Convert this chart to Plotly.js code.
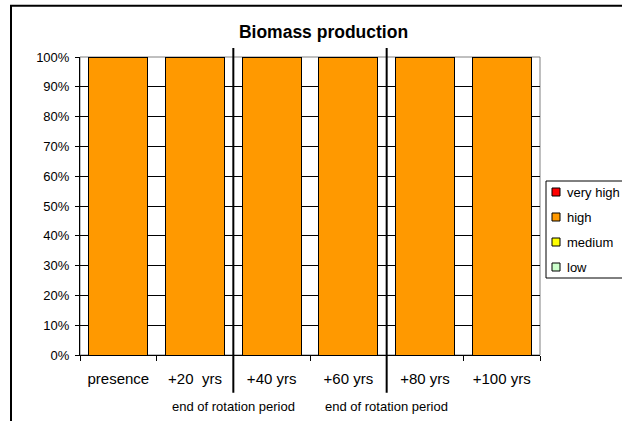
<!DOCTYPE html>
<html>
<head>
<meta charset="utf-8">
<script src="https://cdn.plot.ly/plotly-3.0.1.min.js"></script>
<style>html,body{margin:0;padding:0;background:#fff;}#chart{width:622px;height:421px;}</style>
</head>
<body>
<div id="chart"></div>
<script>
var categories = ['presence', '+20  yrs', '+40 yrs', '+60 yrs', '+80 yrs', '+100 yrs'];
var seriesNames = ['low', 'medium', 'high', 'very high'];
var lowValues = [0, 0, 0, 0, 0, 0];
var mediumValues = [0, 0, 0, 0, 0, 0];
var highValues = [100, 100, 100, 100, 100, 100];
var veryHighValues = [0, 0, 0, 0, 0, 0];
var seriesColors = ['#CCFFCC', '#FFFF00', '#FF9900', '#FF0000'];
var rotationEndAfter = ['+20  yrs', '+60 yrs'];
var rotationLabel = 'end of rotation period';
var yTickValues = [0, 10, 20, 30, 40, 50, 60, 70, 80, 90, 100];
var yTickLabels = ['0%', '10%', '20%', '30%', '40%', '50%', '60%', '70%', '80%', '90%', '100%'];

var FONT = 'Liberation Sans, Arial, sans-serif';
var allValues = [lowValues, mediumValues, highValues, veryHighValues];
var traces = allValues.map(function (vals, i) {
  return {
    type: 'bar', x: categories, y: vals, name: seriesNames[i],
    width: 0.77,
    marker: {color: seriesColors[i], line: {color: '#000000', width: 1}},
    hoverinfo: 'none', showlegend: false
  };
});

// plot area geometry (pixels) used to place the hand-drawn legend/frame
var L = 80, R = 82, T = 57, B = 66, W = 622, H = 421;
var pw = W - L - R, ph = H - T - B;
function px(x) { return (x - L) / pw; }
function py(y) { return (H - B - y) / ph; }

var shapes = [{
  type: 'rect', xref: 'paper', yref: 'paper', x0: 0, x1: 1, y0: 0, y1: 1,
  line: {color: '#808080', width: 1}, layer: 'below'
}, {
  type: 'rect', xref: 'paper', yref: 'paper', x0: px(11), x1: px(700), y0: py(460), y1: py(5.7),
  line: {color: '#000000', width: 2}, layer: 'below'
}];
var annotations = [];
rotationEndAfter.forEach(function (c) {
  var pos = categories.indexOf(c) + 0.5;
  shapes.push({type: 'line', xref: 'x', yref: 'paper', x0: pos, x1: pos, y0: py(392.7), y1: py(48),
    line: {color: '#000000', width: 2}});
  annotations.push({xref: 'x', yref: 'paper', x: pos, y: py(406.7), yanchor: 'middle', showarrow: false,
    text: rotationLabel, font: {size: 13, color: '#000', family: FONT}});
});

// legend (top to bottom: very high, high, medium, low)
shapes.push({type: 'rect', xref: 'paper', yref: 'paper', x0: px(546), x1: px(720), y0: py(278), y1: py(181),
  fillcolor: '#ffffff', line: {color: '#000000', width: 1}});
for (var k = 0; k < seriesNames.length; k++) {
  var idx = seriesNames.length - 1 - k;
  var cy = 192 + 25 * k;
  shapes.push({type: 'rect', xref: 'paper', yref: 'paper', x0: px(552), x1: px(560), y0: py(cy + 4), y1: py(cy - 4),
    fillcolor: seriesColors[idx], line: {color: '#000000', width: 1}});
  annotations.push({xref: 'paper', yref: 'paper', x: px(565), y: py(cy), xanchor: 'left', yanchor: 'middle',
    showarrow: false, text: seriesNames[idx], font: {size: 13, color: '#000', family: FONT}});
}

var layout = {
  width: W, height: H,
  margin: {l: L, r: R, t: T, b: B, autoexpand: false},
  paper_bgcolor: '#ffffff', plot_bgcolor: '#ffffff',
  font: {family: FONT, color: '#000', size: 13},
  title: {text: '<b>Biomass production</b>', xref: 'container', x: 323.5 / W, xanchor: 'center',
    yref: 'container', y: 1 - 32 / H, yanchor: 'middle', font: {size: 17.5, color: '#000', family: FONT}},
  barmode: 'stack',
  showlegend: false,
  xaxis: {type: 'category', showline: true, linecolor: '#000', linewidth: 1,
    ticks: 'outside', tickson: 'boundaries', ticklen: 5, tickcolor: '#000',
    ticklabelstandoff: 10,
    showgrid: false, tickfont: {size: 15}, fixedrange: true},
  yaxis: {range: [0, 100], tickmode: 'array', tickvals: yTickValues, ticktext: yTickLabels,
    showline: true, linecolor: '#000', ticklabelstandoff: 3,
    linewidth: 1, ticks: 'outside', ticklen: 4, tickcolor: '#000',
    showgrid: true, gridcolor: '#000', gridwidth: 1, zeroline: false,
    tickfont: {size: 13}, fixedrange: true},
  shapes: shapes,
  annotations: annotations
};

Plotly.newPlot('chart', traces, layout, {displayModeBar: false, staticPlot: true});
</script>
</body>
</html>
